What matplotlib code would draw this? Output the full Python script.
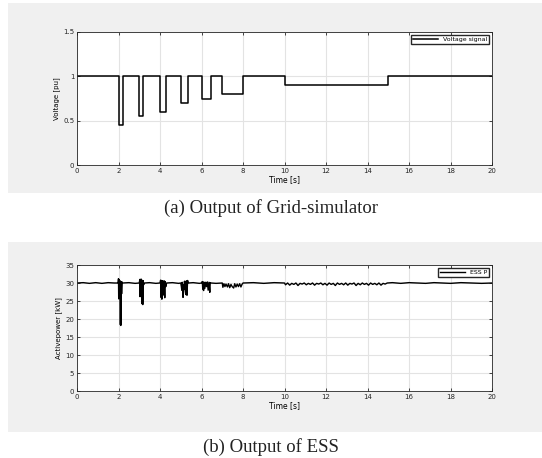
import numpy as np
import matplotlib
matplotlib.use("Agg")
import matplotlib.pyplot as plt
from matplotlib.patches import Rectangle

# grid-simulator voltage (step signal)
volt_t = [0, 2, 2, 2.2, 2.2, 3, 3, 3.2, 3.2, 4, 4, 4.3, 4.3, 5, 5, 5.35, 5.35,
          6, 6, 6.45, 6.45, 7, 7, 8, 8, 10, 10, 15, 15, 20]
volt_v = [1, 1, 0.45, 0.45, 1, 1, 0.55, 0.55, 1, 1, 0.6, 0.6, 1, 1, 0.7, 0.7, 1,
          1, 0.75, 0.75, 1, 1, 0.8, 0.8, 1, 1, 0.9, 0.9, 1, 1]

# ESS active power
ess_t = [0, 0.3, 0.6, 0.9, 1.2, 1.5, 1.8, 1.98,
         2.00, 2.01, 2.02, 2.03, 2.04, 2.05, 2.06, 2.07, 2.08, 2.09, 2.10, 2.11, 2.12, 2.13, 2.14, 2.15, 2.17, 2.2,
         2.5, 2.8, 3.0,
         3.03, 3.04, 3.06, 3.07, 3.09, 3.10, 3.12, 3.14, 3.16, 3.17, 3.19, 3.21, 3.25,
         3.5, 3.8, 4.0,
         4.03, 4.05, 4.07, 4.09, 4.11, 4.13, 4.15, 4.18, 4.20, 4.23, 4.25, 4.28, 4.32,
         4.6, 4.9, 5.0,
         5.03, 5.05, 5.07, 5.09, 5.11, 5.13, 5.15, 5.18, 5.21, 5.24, 5.27, 5.30, 5.33, 5.36,
         5.6, 5.9, 6.0,
         6.04, 6.06, 6.08, 6.10, 6.13, 6.16, 6.20, 6.24, 6.28, 6.32, 6.36, 6.40, 6.42, 6.46,
         6.7, 7.0,
         7.03, 7.08, 7.13, 7.18, 7.25, 7.30, 7.36, 7.42, 7.48, 7.55, 7.60, 7.66, 7.72, 7.78, 7.84, 7.90, 7.95, 8.0,
         8.5, 9.0, 9.5, 10.0,
         10.05, 10.15, 10.25, 10.35, 10.45, 10.55, 10.65, 10.75, 10.85, 10.95,
         11.05, 11.15, 11.25, 11.35, 11.45, 11.55, 11.65, 11.75, 11.85, 11.95,
         12.05, 12.15, 12.25, 12.35, 12.45, 12.55, 12.65, 12.75, 12.85, 12.95,
         13.05, 13.15, 13.25, 13.35, 13.45, 13.55, 13.65, 13.75, 13.85, 13.95,
         14.05, 14.15, 14.25, 14.35, 14.45, 14.55, 14.65, 14.75, 14.85, 14.95,
         15.2, 15.6, 16.0, 16.4, 16.8, 17.2, 17.6, 18.0, 18.5, 19.0, 19.5, 20.0]
ess_p = [30.0, 30.1, 29.9, 30.1, 29.9, 30.1, 30.0, 30.0,
         31.2, 25.6, 30.9, 25.8, 30.8, 26.0, 30.6, 25.7, 30.5, 18.4, 30.4, 18.2, 30.3, 26.5, 30.2, 27.0, 30.3, 30.0,
         30.1, 29.9, 30.0,
         31.0, 26.2, 30.9, 26.4, 31.1, 27.0, 30.8, 24.2, 30.7, 24.0, 30.6, 29.5, 30.0,
         30.1, 29.9, 30.0,
         30.8, 26.0, 30.7, 25.5, 30.6, 26.5, 30.5, 27.0, 30.6, 25.9, 30.4, 29.0, 30.0,
         30.1, 29.9, 30.0,
         29.0, 28.0, 30.2, 27.9, 26.0, 29.5, 28.2, 30.5, 28.0, 26.8, 30.6, 26.6, 30.7, 30.0,
         30.1, 29.9, 30.0,
         30.4, 28.3, 30.3, 27.9, 30.2, 28.5, 30.2, 29.0, 30.3, 28.0, 30.2, 27.4, 30.1, 30.0,
         29.9, 30.0,
         28.8, 29.8, 29.0, 29.7, 28.9, 29.8, 28.7, 29.6, 29.0, 28.6, 29.8, 28.9, 29.7, 29.0, 29.8, 28.9, 29.6, 30.0,
         30.1, 29.9, 30.1, 30.0,
         29.5, 30.0, 29.4, 29.9, 29.6, 30.0, 29.3, 29.9, 29.7, 30.0,
         29.5, 29.9, 29.6, 30.0, 29.4, 29.9, 29.7, 30.0, 29.5, 29.9,
         29.4, 30.0, 29.6, 29.9, 29.3, 30.0, 29.6, 29.9, 29.5, 30.0,
         29.4, 29.9, 29.7, 30.0, 29.3, 29.9, 29.5, 30.0, 29.6, 29.9,
         29.4, 30.0, 29.6, 29.9, 29.5, 30.0, 29.4, 29.9, 29.7, 30.0,
         30.1, 29.9, 30.1, 30.0, 29.9, 30.1, 30.0, 29.9, 30.1, 30.0, 29.9, 30.0]

x_ticks = np.arange(0, 21, 2)
volt_ticks = [0, 0.5, 1, 1.5]
volt_ticklabels = ["0", "0.5", "1", "1.5"]
power_ticks = np.arange(0, 36, 5)

W, H = 542, 458
fig = plt.figure(figsize=(W / 100, H / 100), dpi=100)
fig.patch.set_facecolor("white")

# gray panel backgrounds
for top, bot in [(3, 193), (242, 432)]:
    fig.patches.append(Rectangle((8 / W, 1 - bot / H), 1 - 8 / W, (bot - top) / H,
                                 transform=fig.transFigure, facecolor="#f0f0f0",
                                 edgecolor="none", zorder=-10))


def style_axes(ax):
    ax.set_xlim(0, 20)
    ax.set_xticks(x_ticks)
    ax.grid(True, color="#e3e3e3", linewidth=0.8)
    ax.set_axisbelow(True)
    ax.tick_params(direction="in", length=2.5, width=0.6, labelsize=5.0,
                   colors="#262626", top=True, right=True, pad=2)
    for s in ax.spines.values():
        s.set_color("#262626")
        s.set_linewidth(0.6)
    ax.set_xlabel("Time [s]", fontsize=5.5, labelpad=1)


ax1 = fig.add_axes([77 / W, 1 - 165 / H, 415 / W, 133 / H])
ax1.plot(volt_t, volt_v, color="black", linewidth=1.1, label="Voltage signal")
ax1.set_ylim(0, 1.5)
ax1.set_yticks(volt_ticks)
ax1.set_yticklabels(volt_ticklabels)
style_axes(ax1)
ax1.set_ylabel("Voltage [pu]", fontsize=5.0, labelpad=2)
ax1.legend(loc="upper right", fontsize=4.5, frameon=True, fancybox=False,
           edgecolor="#262626", handlelength=4, borderpad=0.3, framealpha=1)

ax2 = fig.add_axes([77 / W, 1 - 391 / H, 415 / W, 126 / H])
ax2.plot(ess_t, ess_p, color="black", linewidth=1.0, label="ESS P")
ax2.set_ylim(0, 35)
ax2.set_yticks(power_ticks)
style_axes(ax2)
ax2.set_ylabel("Activepower [kW]", fontsize=5.0, labelpad=2)
ax2.legend(loc="upper right", fontsize=4.5, frameon=True, fancybox=False,
           edgecolor="#262626", handlelength=4, borderpad=0.3, framealpha=1)

fig.text(0.5, 1 - 208 / H, "(a) Output of Grid-simulator", ha="center", va="center",
         fontsize=13.5, family="Liberation Serif", color="#222222")
fig.text(0.5, 1 - 447 / H, "(b) Output of ESS", ha="center", va="center",
         fontsize=13.5, family="Liberation Serif", color="#222222")

fig.savefig("out.png", dpi=100, facecolor=fig.get_facecolor())
